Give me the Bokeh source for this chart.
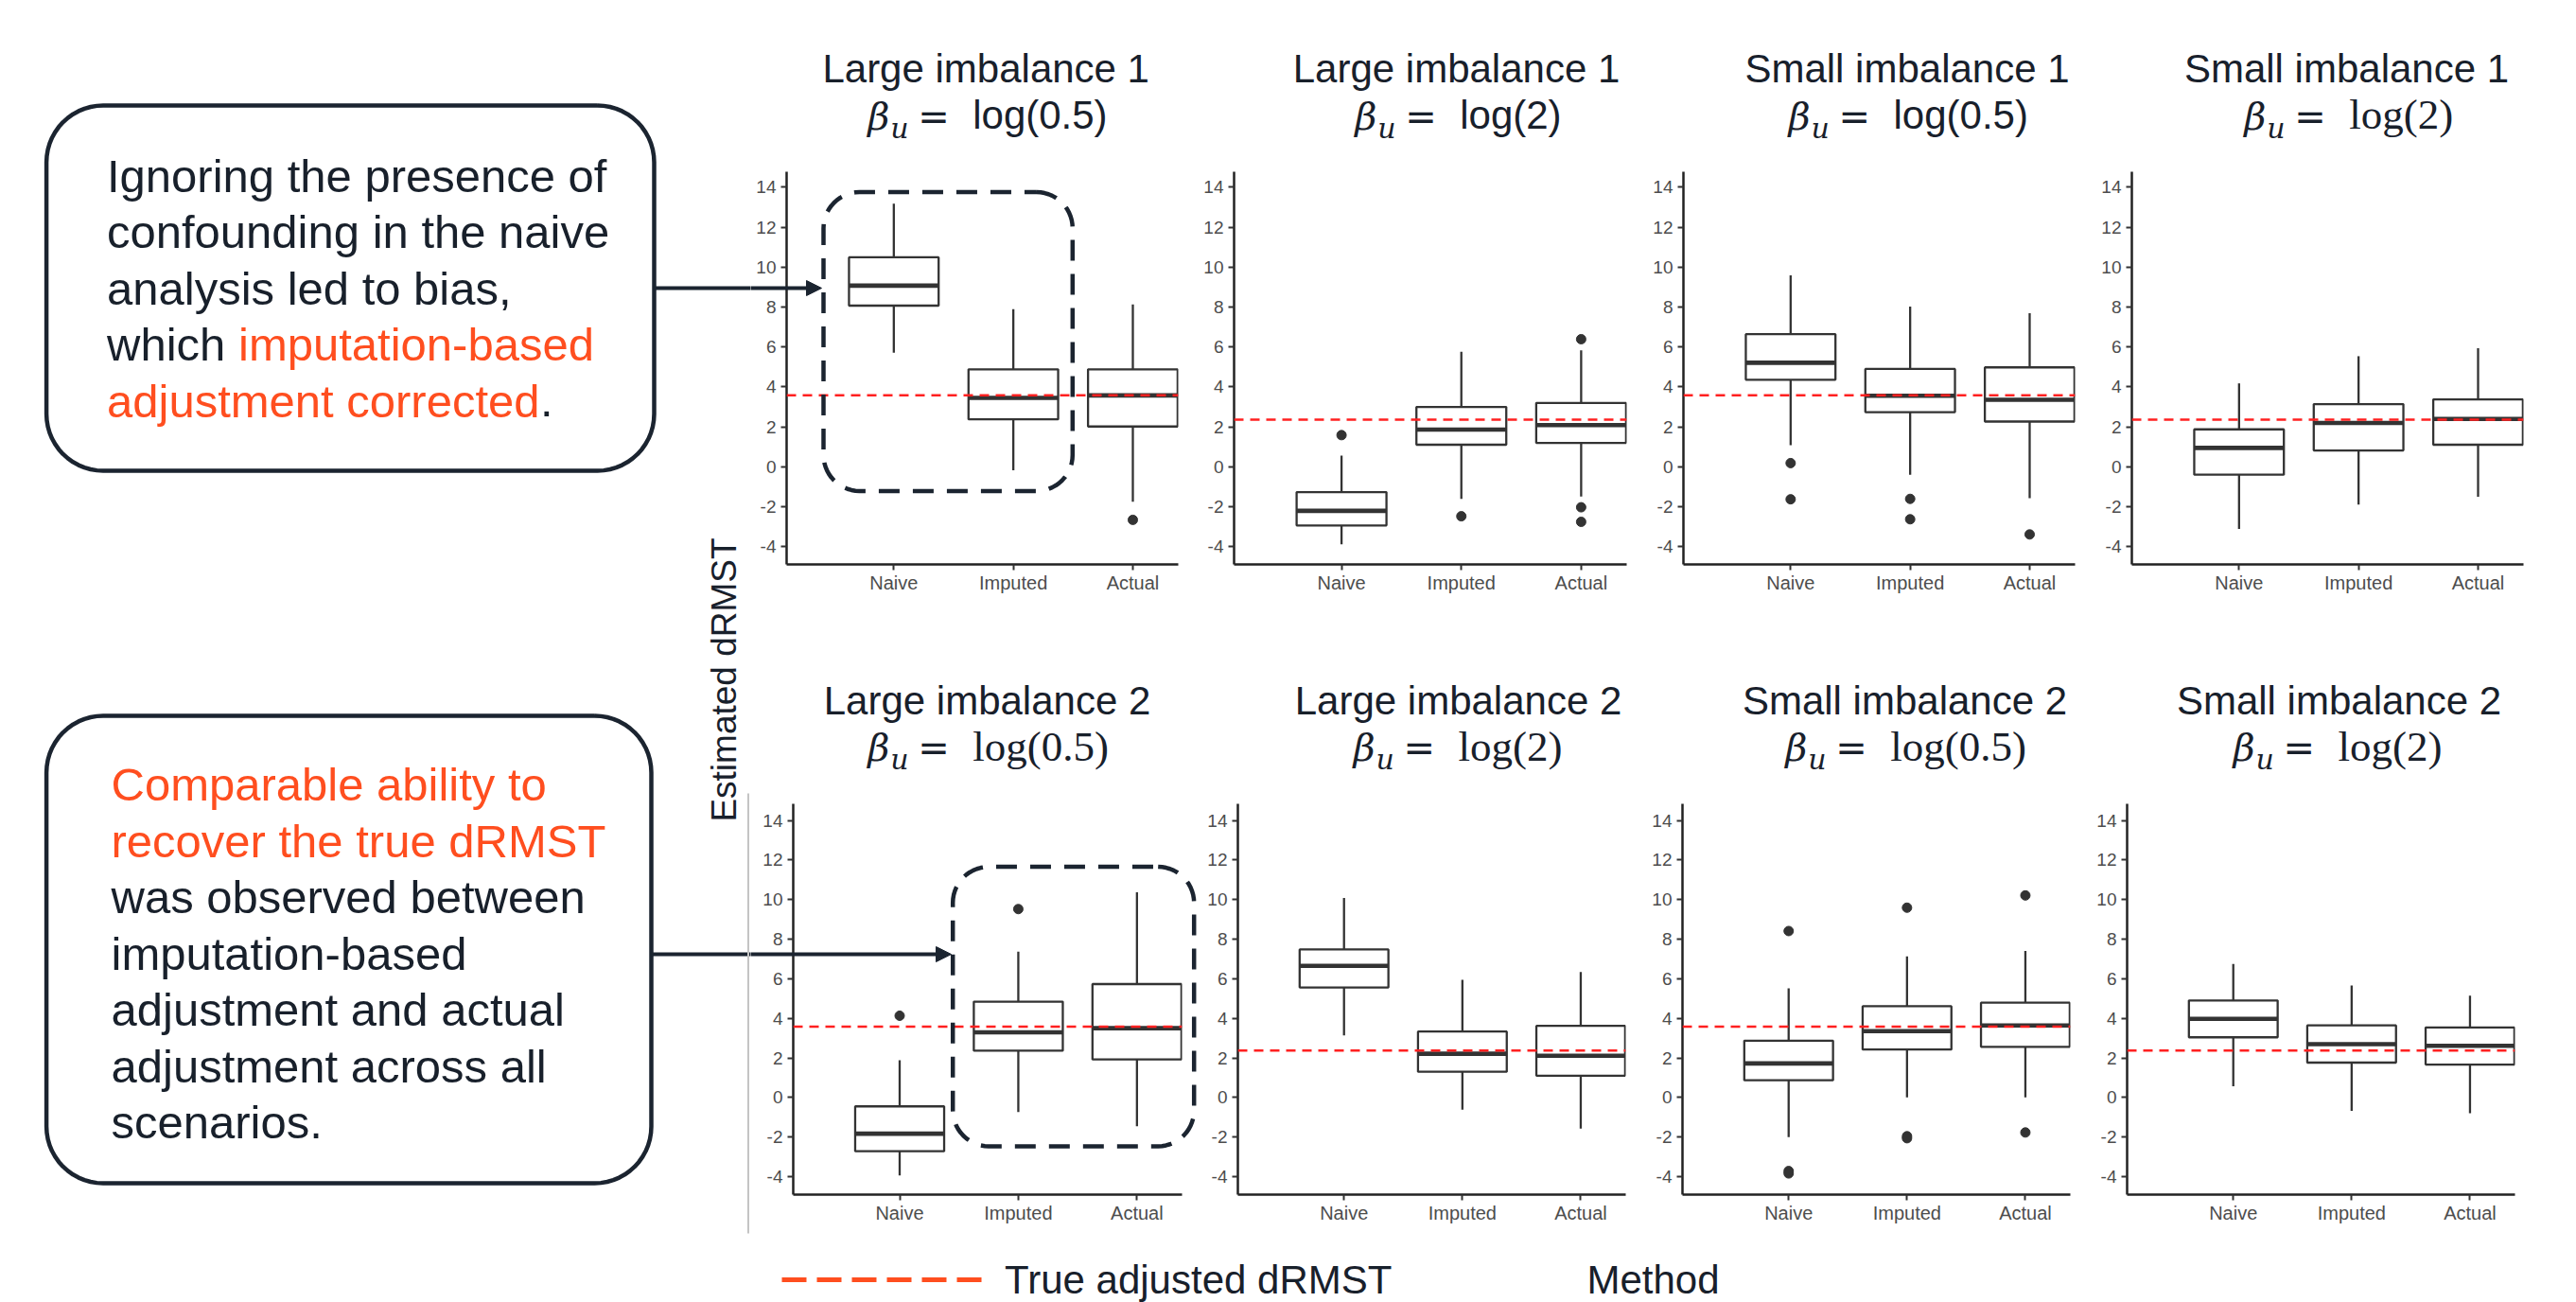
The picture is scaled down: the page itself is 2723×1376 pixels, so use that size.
import math
from bokeh.plotting import figure
from bokeh.models import Range1d, Span, FixedTicker
from bokeh.layouts import row, column
from bokeh.embed import file_html
from bokeh.resources import INLINE
from bokeh.core.properties import value

# ---------------- data ----------------
methods = ["Naive", "Imputed", "Actual"]
method_pos = [1, 2, 3]
panel_scenario = ["Large imbalance 1", "Large imbalance 1", "Small imbalance 1", "Small imbalance 1",
                  "Large imbalance 2", "Large imbalance 2", "Small imbalance 2", "Small imbalance 2"]
panel_beta = ["log(0.5)", "log(2)", "log(0.5)", "log(2)", "log(0.5)", "log(2)", "log(0.5)", "log(2)"]
y_ticks = [-4, -2, 0, 2, 4, 6, 8, 10, 12, 14]
y_tick_labels = ["-4", "-2", "0", "2", "4", "6", "8", "10", "12", "14"]

whisker_low = [
    [5.72, -0.17, -1.74],
    [-3.87, -1.60, -1.48],
    [1.09, -0.39, -1.57],
    [-3.11, -1.88, -1.50],
    [-3.94, -0.74, -1.46],
    [3.14, -0.62, -1.57],
    [-2.00, 0.00, 0.00],
    [0.56, -0.68, -0.80],
]
box_q1 = [
    [8.07, 2.38, 2.02],
    [-2.93, 1.11, 1.20],
    [4.36, 2.74, 2.27],
    [-0.39, 0.82, 1.11],
    [-2.72, 2.36, 1.92],
    [5.56, 1.30, 1.10],
    [0.87, 2.42, 2.56],
    [3.04, 1.76, 1.66],
]
box_median = [
    [9.07, 3.45, 3.58],
    [-2.20, 1.87, 2.09],
    [5.21, 3.56, 3.36],
    [0.95, 2.20, 2.40],
    [-1.83, 3.29, 3.50],
    [6.65, 2.21, 2.11],
    [1.72, 3.35, 3.64],
    [3.97, 2.69, 2.61],
]
box_q3 = [
    [10.49, 4.88, 4.88],
    [-1.26, 3.00, 3.20],
    [6.64, 4.90, 4.98],
    [1.88, 3.14, 3.38],
    [-0.45, 4.84, 5.73],
    [7.48, 3.33, 3.62],
    [2.87, 4.61, 4.79],
    [4.90, 3.64, 3.54],
]
whisker_high = [
    [13.17, 7.89, 8.13],
    [0.57, 5.76, 5.83],
    [9.58, 8.02, 7.69],
    [4.18, 5.54, 5.94],
    [1.88, 7.37, 10.37],
    [10.08, 5.95, 6.34],
    [5.52, 7.13, 7.40],
    [6.75, 5.66, 5.14],
]
outlier_method = [
    ["Actual"],
    ["Naive", "Imputed", "Actual", "Actual", "Actual"],
    ["Naive", "Naive", "Imputed", "Imputed", "Actual"],
    [],
    ["Naive", "Imputed"],
    [],
    ["Naive", "Naive", "Naive", "Imputed", "Imputed", "Imputed", "Actual", "Actual"],
    [],
]
outlier_value = [
    [-2.65],
    [1.59, -2.47, 6.39, -2.02, -2.75],
    [0.19, -1.62, -1.60, -2.62, -3.38],
    [],
    [4.13, 9.52],
    [],
    [8.41, -3.72, -3.84, 9.59, -1.96, -2.06, 10.21, -1.77],
    [],
]
true_drmst = [3.58, 2.37, 3.58, 2.37, 3.58, 2.37, 3.58, 2.37]

# ---------------- layout constants (reference pixels) ----------------
L_W = 793
PANEL_W = [473, 475, 474, 500, 477, 470, 470, 505]
BORDER_L = [38, 38, 38, 38, 45, 38, 38, 38]
FRAME_W = [414, 415, 414, 414, 411, 410, 410, 410]
FIG_X0 = [793, 1266, 1741, 2215, 793, 1270, 1740, 2210]
ROW_Y0 = [0, 650]
ROW_H = [650, 650]
BORDER_T = [181, 199]
FRAME_H = [415, 413]
LEG_H = 76
TOTAL_H = 1376
Y_LIM = [(-4.88, 14.77), (-4.91, 14.84)]
X_LIM = (0.103, 3.38)

TITLE_CX = [1041.7, 1539, 2015.5, 2480, 1043, 1541, 2013, 2472]
BETA_X = [916.7, 1431.7, 1890, 2371.7, 916.7, 1430, 1886.7, 2360]
TITLE_BASE = [(86.7, 135.7), (753.9, 803.5)]
LOG_SERIF = [False, False, False, True, True, True, True, True]
BASE_SHIFT = 0.34  # em: correction for where the svg text baseline lands

DARK = "#18202b"
NAVY = "#1b2430"
ORANGE = "#FF4E1F"
BOXLINE = "#333333"
SANS = "Liberation Sans"


def rounded_path(x0, y0, x1, y1, r, n=14):
    xs, ys = [], []
    corners = [(x1 - r, y0 + r, -90, 0), (x1 - r, y1 - r, 0, 90),
               (x0 + r, y1 - r, 90, 180), (x0 + r, y0 + r, 180, 270)]
    for cx, cy, a0, a1 in corners:
        for i in range(n + 1):
            a = math.radians(a0 + (a1 - a0) * i / n)
            xs.append(cx + r * math.cos(a))
            ys.append(cy + r * math.sin(a))
    xs.append(xs[0])
    ys.append(ys[0])
    return xs, ys


def to_data(k, X, Y):
    r = k // 4
    fl = FIG_X0[k] + BORDER_L[k]
    fw = FRAME_W[k]
    ft = ROW_Y0[r] + BORDER_T[r]
    fh = FRAME_H[r]
    x = X_LIM[0] + (X - fl) / fw * (X_LIM[1] - X_LIM[0])
    y = Y_LIM[r][1] - (Y - ft) / fh * (Y_LIM[r][1] - Y_LIM[r][0])
    return x, y


def to_data_list(k, Xs, Ys):
    pts = [to_data(k, X, Y) for X, Y in zip(Xs, Ys)]
    return [a for a, _ in pts], [b for _, b in pts]


def add_text(p, k, X, Y, text, font, size_px, style="normal", align="left", color=DARK):
    x, y = to_data(k, X, Y - BASE_SHIFT * size_px)
    p.text(x=[x], y=[y], text=[text], text_font=value(font), text_font_size=value(f"{size_px}px"),
           text_font_style=value(style), text_align=align, text_baseline="alphabetic",
           text_color=color, level="overlay")


panels = []
for k in range(8):
    r = k // 4
    bl = BORDER_L[k]
    br = PANEL_W[k] - bl - FRAME_W[k]
    bt = BORDER_T[r]
    bb = ROW_H[r] - bt - FRAME_H[r]
    p = figure(width=PANEL_W[k], height=ROW_H[r], title=None,
               x_range=Range1d(*X_LIM), y_range=Range1d(*Y_LIM[r]),
               output_backend="svg", toolbar_location=None,
               min_border_left=bl, min_border_right=br, min_border_top=bt, min_border_bottom=bb)
    p.outline_line_color = None
    p.background_fill_color = "white"
    p.border_fill_color = "white"
    p.xgrid.visible = False
    p.ygrid.visible = False

    for ax in (p.xaxis[0], p.yaxis[0]):
        ax.axis_line_color = "#222222"
        ax.axis_line_width = 2.5
        ax.major_tick_line_color = "#333333"
        ax.major_tick_line_width = 2
        ax.major_tick_in = 0
        ax.minor_tick_line_color = None
        ax.major_label_text_color = "#4d4d4d"
        ax.major_label_text_font = SANS
    p.xaxis.ticker = FixedTicker(ticks=method_pos)
    p.xaxis.major_label_overrides = {pos: m for pos, m in zip(method_pos, methods)}
    p.xaxis.major_label_text_font_size = "20px"
    p.xaxis.major_tick_out = 6
    p.xaxis.major_label_standoff = 2
    p.yaxis.ticker = FixedTicker(ticks=y_ticks)
    p.yaxis.major_label_overrides = {t: s for t, s in zip(y_ticks, y_tick_labels)}
    p.yaxis.major_label_text_font_size = "19px"
    p.yaxis.major_tick_out = 6
    p.yaxis.major_label_standoff = 5

    half = 0.375
    left = [m - half for m in method_pos]
    right = [m + half for m in method_pos]
    p.segment(x0=method_pos, y0=box_q3[k], x1=method_pos, y1=whisker_high[k], line_color=BOXLINE, line_width=2.3)
    p.segment(x0=method_pos, y0=whisker_low[k], x1=method_pos, y1=box_q1[k], line_color=BOXLINE, line_width=2.3)
    p.quad(left=left, right=right, bottom=box_q1[k], top=box_q3[k], fill_color="white",
           line_color=BOXLINE, line_width=2.3)
    p.segment(x0=left, y0=box_median[k], x1=right, y1=box_median[k], line_color=BOXLINE, line_width=4.6)
    if outlier_method[k]:
        ox = [method_pos[methods.index(m)] for m in outlier_method[k]]
        p.scatter(x=ox, y=outlier_value[k], size=10, color=BOXLINE)

    p.add_layout(Span(location=true_drmst[k], dimension="width", line_color="#FF2020",
                      line_dash="10 7", line_width=2.5))

    # facet titles (overlay level so they are not clipped to the frame)
    b1, b2 = TITLE_BASE[r]
    add_text(p, k, TITLE_CX[k], b1, panel_scenario[k], SANS, 42, align="center")
    bx = BETA_X[k]
    add_text(p, k, bx, b2, "β", "DejaVu Serif", 40, style="italic")
    add_text(p, k, bx + 24, b2 + 9, "u", "DejaVu Serif", 30, style="italic")
    add_text(p, k, bx + 53, b2, "=", "DejaVu Sans", 40)
    if LOG_SERIF[k]:
        add_text(p, k, bx + 111, b2, panel_beta[k], "Liberation Serif", 45)
    else:
        add_text(p, k, bx + 111, b2, panel_beta[k], SANS, 42)
    panels.append(p)

# dashed highlight boxes and arrow ends inside the panels
for k, (x0, y0, x1, y1), ay, tip in [(0, (870, 202.6, 1133.3, 518.4), 304, 868),
                                      (4, (1006.7, 915.6, 1261.7, 1210.9), 1008, 1005)]:
    xs, ys = rounded_path(x0, y0, x1, y1, 38)
    dxs, dys = to_data_list(k, xs, ys)
    panels[k].line(dxs, dys, line_color=NAVY, line_width=4.5, line_dash="22 14", level="overlay")
    lx, ly = to_data_list(k, [793, tip - 12], [ay, ay])
    panels[k].line(lx, ly, line_color=NAVY, line_width=4, level="overlay")
    hx, hy = to_data_list(k, [tip, tip - 16, tip - 16], [ay, ay - 8, ay + 8])
    panels[k].patch(hx, hy, fill_color=NAVY, line_color=NAVY, line_width=1, level="overlay")

# ---------------- left annotation figure ----------------
L = figure(width=L_W, height=TOTAL_H, x_range=Range1d(0, L_W), y_range=Range1d(TOTAL_H, 0),
           x_axis_type=None, y_axis_type=None, output_backend="svg", toolbar_location=None,
           min_border=0, title=None)
L.outline_line_color = None
L.xgrid.visible = False
L.ygrid.visible = False

for (x0, y0, x1, y1) in [(48.6, 111, 691, 497), (48.6, 756, 688, 1250)]:
    xs, ys = rounded_path(x0, y0, x1, y1, 60)
    L.line(xs, ys, line_color=NAVY, line_width=4.5)

L.line([691, L_W], [304, 304], line_color=NAVY, line_width=4)
L.line([688, L_W], [1008, 1008], line_color=NAVY, line_width=4)
L.line([790.5, 790.5], [838, 1303], line_color="#c4c4c4", line_width=2)

BOX_FONT = 49
txt_x = [112.5, 112.5, 112.5, 112.5, 251.5, 112.5, 570.5,
         117, 117, 117, 117, 117, 117, 117]
txt_base = [201.7, 261.3, 320.9, 380.4, 380.4, 440, 440,
            845.5, 905, 964.5, 1024, 1083.5, 1143, 1202.5]
txt = ["Ignoring the presence of", "confounding in the naive", "analysis led to bias,",
       "which", "imputation-based", "adjustment corrected", ".",
       "Comparable ability to", "recover the true dRMST", "was observed between",
       "imputation-based", "adjustment and actual", "adjustment across all", "scenarios."]
txt_c = [DARK, DARK, DARK, DARK, ORANGE, ORANGE, DARK,
         ORANGE, ORANGE, DARK, DARK, DARK, DARK, DARK]
L.text(x=txt_x, y=[b - BASE_SHIFT * BOX_FONT for b in txt_base], text=txt, text_color=txt_c,
       text_font=value(SANS), text_font_size=value(f"{BOX_FONT}px"), text_baseline="alphabetic",
       text_align="left")

YLAB_FONT = 37
L.text(x=[778 - BASE_SHIFT * YLAB_FONT], y=[718], text=["Estimated dRMST"], angle=math.pi / 2,
       text_color=DARK, text_font=value(SANS), text_font_size=value(f"{YLAB_FONT}px"),
       text_baseline="alphabetic", text_align="center")

# ---------------- bottom legend strip ----------------
LEG_FONT = 42
G = figure(width=2715 - L_W, height=LEG_H, x_range=Range1d(L_W, 2715), y_range=Range1d(TOTAL_H, TOTAL_H - LEG_H),
           x_axis_type=None, y_axis_type=None, output_backend="svg", toolbar_location=None,
           min_border=0, title=None)
G.outline_line_color = None
G.xgrid.visible = False
G.ygrid.visible = False
G.line([826, 1037], [1352, 1352], line_color=ORANGE, line_width=5, line_dash="26 11")
G.text(x=[1061.6, 1677], y=[1366 - BASE_SHIFT * LEG_FONT] * 2, text=["True adjusted dRMST", "Method"],
       text_color=DARK, text_font=value(SANS), text_font_size=value(f"{LEG_FONT}px"),
       text_baseline="alphabetic", text_align="left")

layout = row(L, column(row(*panels[:4]), row(*panels[4:]), G))

with open("out.html", "w") as f:
    f.write(file_html(layout, INLINE))
